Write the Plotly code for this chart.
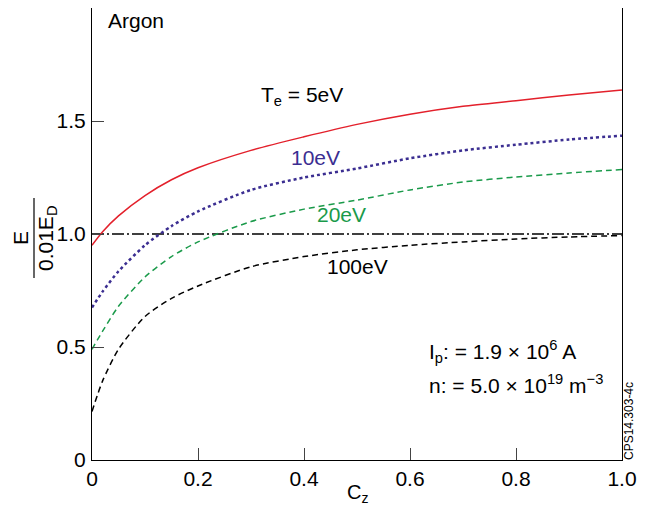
import plotly.graph_objects as go

cz = [0, 0.02, 0.05, 0.1, 0.15, 0.2, 0.3, 0.4, 0.5, 0.6, 0.7, 0.8, 0.9, 1.0]
e_5ev = [0.95, 1.01, 1.08, 1.17, 1.24, 1.293, 1.37, 1.43, 1.485, 1.53, 1.565, 1.59, 1.615, 1.637]
e_10ev = [0.675, 0.745, 0.835, 0.95, 1.035, 1.10, 1.195, 1.25, 1.29, 1.335, 1.37, 1.395, 1.418, 1.435]
e_20ev = [0.49, 0.57, 0.68, 0.81, 0.90, 0.965, 1.055, 1.11, 1.15, 1.195, 1.23, 1.252, 1.27, 1.285]
e_100ev = [0.215, 0.35, 0.49, 0.635, 0.715, 0.77, 0.855, 0.90, 0.93, 0.95, 0.965, 0.978, 0.987, 0.993]
ref_x = [0, 1.0]
ref_y = [1.0, 1.0]

x_ticks = [0, 0.2, 0.4, 0.6, 0.8, 1.0]
x_ticktext = ["0", "0.2", "0.4", "0.6", "0.8", "1.0"]
y_ticks = [0, 0.5, 1.0, 1.5]
y_ticktext = ["0", "0.5", "1.0", "1.5"]

FONT = "Liberation Sans, Arial, sans-serif"

fig = go.Figure()
fig.add_trace(go.Scatter(x=ref_x, y=ref_y, mode="lines",
                         line=dict(color="black", width=1.5, dash="12px,3px,2px,3px")))
fig.add_trace(go.Scatter(x=cz, y=e_100ev, mode="lines", line_shape="spline",
                         line=dict(color="black", width=1.5, dash="6px,4px", smoothing=0.7)))
fig.add_trace(go.Scatter(x=cz, y=e_20ev, mode="lines", line_shape="spline",
                         line=dict(color="#1a9a4a", width=1.5, dash="6px,4px", smoothing=0.7)))
fig.add_trace(go.Scatter(x=cz, y=e_10ev, mode="lines", line_shape="spline",
                         line=dict(color="#3b2e91", width=2.5, dash="dot", smoothing=0.7)))
fig.add_trace(go.Scatter(x=cz, y=e_5ev, mode="lines", line_shape="spline",
                         line=dict(color="#e3202b", width=1.5, smoothing=0.7)))

ann = []
def A(x, y, text, color="black", size=21, xanchor="center", **kw):
    ann.append(dict(x=x, y=y, xref="paper", yref="paper", text=text, showarrow=False,
                    font=dict(family=FONT, size=size, color=color), xanchor=xanchor,
                    yanchor="middle", **kw))

# plot area on screen: x 92..622, y 8..460 (px)
def px(xp, yp):
    return (xp - 92) / 530, (460 - yp) / 452

A(*px(106, 21), "Argon", xanchor="left")
A(*px(302, 96), "T<sub>e</sub> = 5eV")
A(*px(315, 157), "10eV", color="#3b2e91")
A(*px(341, 214), "20eV", color="#1a9a4a")
A(*px(357, 266), "100eV")
A(*px(427, 351), "I<sub>p</sub>: = 1.9 × 10<sup>6</sup> A", xanchor="left")
A(*px(427, 384), "n: = 5.0 × 10<sup>19</sup> m<sup>−3</sup>", xanchor="left")
A(*px(629, 421), "CPS14.303-4c", size=12, textangle=-90)
A(*px(20, 238), "E", textangle=-90)
A(*px(47, 238), "0.01E<sub>D</sub>", textangle=-90)
A(*px(357, 493), "C<sub>z</sub>", size=20)

fig.update_layout(
    width=640, height=502,
    margin=dict(l=84, r=26, t=0, b=50),
    paper_bgcolor="white", plot_bgcolor="white",
    showlegend=False,
    font=dict(family=FONT, size=21, color="black"),
    annotations=ann,
    shapes=[dict(type="line", xref="paper", yref="paper",
                 x0=(34 - 92) / 530, x1=(34 - 92) / 530,
                 y0=(460 - 198) / 452, y1=(460 - 278) / 452,
                 line=dict(color="black", width=1.2))],
    xaxis=dict(range=[0, 1.0], tickvals=x_ticks, ticktext=x_ticktext,
               ticks="inside", ticklen=12, tickwidth=1, tickcolor="#444",
               showline=True, linecolor="black", linewidth=1.2, mirror=True,
               showgrid=False, zeroline=False, ticklabelstandoff=0),
    yaxis=dict(range=[0, 2.0], tickvals=y_ticks, ticktext=y_ticktext,
               ticks="inside", ticklen=12, tickwidth=1, tickcolor="#444",
               showline=True, linecolor="black", linewidth=1.2, mirror=True,
               showgrid=False, zeroline=False, ticklabelstandoff=1),
)

fig.write_html("out.html")
